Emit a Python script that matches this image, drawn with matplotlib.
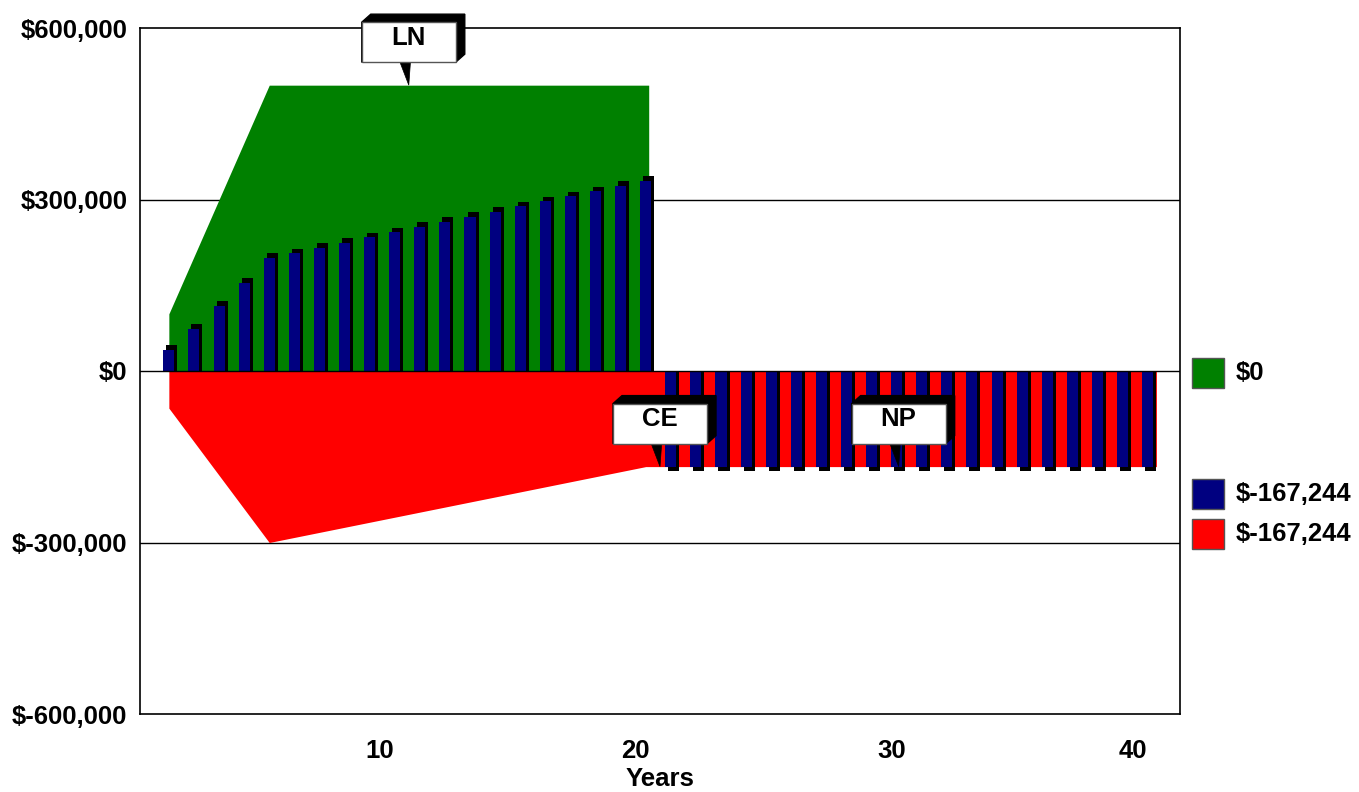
import matplotlib.pyplot as plt
import matplotlib.transforms as mtransforms
from matplotlib.patches import Rectangle, Polygon
from matplotlib.ticker import FuncFormatter
import numpy as np

plt.rcParams['font.family'] = ['Liberation Sans', 'DejaVu Sans']
plt.rcParams['font.weight'] = 'bold'

# data
years = np.arange(1, 41)
blue_vals = [36700, 73400, 113600, 154300, 198000, 206200, 215500, 224200,
             233600, 242900, 252200, 260900, 269600, 279000, 288300, 297000,
             305800, 314500, 323800, 333200] + [-167244] * 20

# area outlines (break points)
green_x = [1, 5, 20.12]
green_y = [100000, 500000, 500000]
red_x = [1, 5, 20, 40.35]
red_y = [-65000, -300000, -167244, -167244]

legend_values = [0, blue_vals[-1], red_y[-1]]
callouts = [('LN', 10.56, 500000), ('CE', 20.57, -167244), ('NP', 30.08, -167244)]

xtick_pos = [9.4, 19.6, 29.8, 39.4]
xtick_labels = ['10', '20', '30', '40']
yticks = [-600000, -300000, 0, 300000, 600000]

green = '#008000'
navy = '#000080'
red = '#ff0000'
fs = 18.5


def money(v, pos=None):
    return f"${v:,.0f}"


fig = plt.figure(figsize=(13.59, 7.92), dpi=100)
ax = fig.add_axes([140 / 1359, 1 - 714 / 792, 1040 / 1359, 686 / 792])
ax.set_xlim(-0.15, 41.29)
ax.set_ylim(-600000, 600000)

# gridlines behind the areas
for v in [-300000, 300000]:
    ax.axhline(v, color='black', lw=1, zorder=0)

ax.fill_between(green_x, 0, green_y, color=green, lw=0, zorder=1)
ax.fill_between(red_x, red_y, 0, color=red, lw=0, zorder=1)

# bars with a black 3D shadow
bw = 0.44
dx, dy = 0.12, 8000
shadow_h = [v + dy if v > 0 else v - dy for v in blue_vals]
ax.bar(years + dx, shadow_h, width=bw, color='black', lw=0, zorder=2)
ax.bar(years, blue_vals, width=bw, color=navy, lw=0, zorder=3)
ax.axhline(0, color='black', lw=1, zorder=4)

for s in ax.spines.values():
    s.set_linewidth(1.2)
    s.set_color('black')

ax.set_yticks(yticks)
ax.yaxis.set_major_formatter(FuncFormatter(money))
ax.set_xticks(xtick_pos)
ax.set_xticklabels(xtick_labels)
ax.tick_params(axis='both', length=0, labelsize=fs)
ax.tick_params(axis='x', pad=18)
ax.tick_params(axis='y', pad=9)
ax.set_xlabel('Years', fontsize=fs, fontweight='bold', labelpad=3)


def callout(label, x, y):
    tr = fig.dpi_scale_trans + mtransforms.ScaledTranslation(x, y, ax.transData)
    shadow = Polygon([(-0.47, 0.23), (-0.47, 0.63), (-0.38, 0.71), (0.56, 0.71),
                      (0.56, 0.31), (0.47, 0.23)], closed=True, fc='black',
                     ec='black', transform=tr, clip_on=False, zorder=10)
    pointer = Polygon([(-0.09, 0.235), (0.017, 0.235), (0, 0)], closed=True,
                      fc='black', ec='black', lw=0.5, transform=tr,
                      clip_on=False, zorder=11)
    box = Rectangle((-0.47, 0.23), 0.94, 0.40, fc='white', ec='#555555', lw=1,
                    transform=tr, clip_on=False, zorder=12)
    for p in (shadow, pointer, box):
        ax.add_artist(p)
    ax.text(0, 0.475, label, transform=tr, ha='center', va='center',
            fontsize=fs, fontweight='bold', zorder=13, clip_on=False)


for lab, x, y in callouts:
    callout(lab, x, y)

# legend at right
leg_colors = [green, navy, red]
leg_tops = [358, 479, 519]
for c, top, v in zip(leg_colors, leg_tops, legend_values):
    fig.add_artist(Rectangle((1192 / 1359, 1 - (top + 30) / 792), 32 / 1359, 30 / 792,
                             transform=fig.transFigure, fc=c, ec='#555555', lw=1))
    fig.text(1236 / 1359, 1 - (top + 15) / 792, money(v), fontsize=fs,
             fontweight='bold', va='center', ha='left')

fig.savefig('out.png', dpi=100)
